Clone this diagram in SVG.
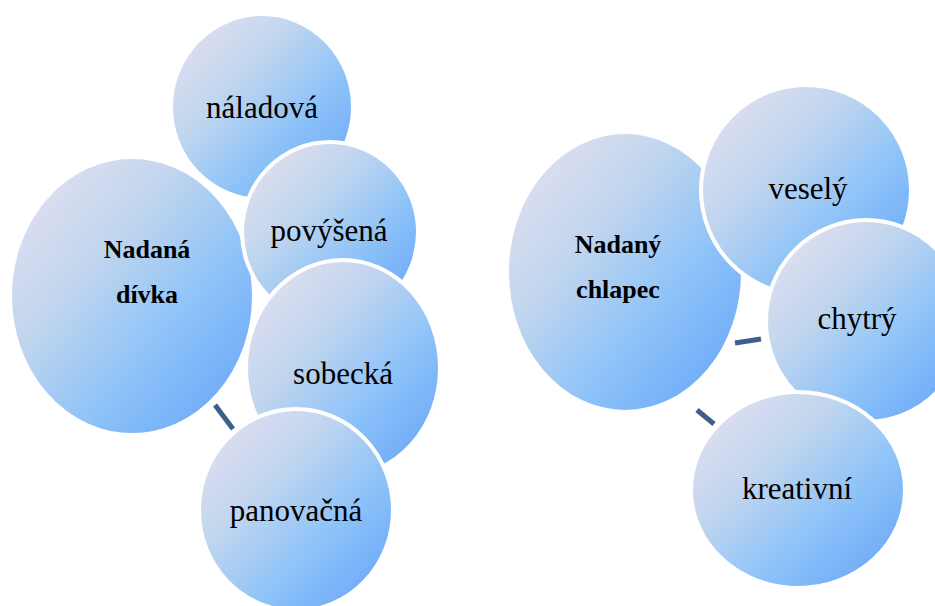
<svg xmlns="http://www.w3.org/2000/svg" width="935" height="606" viewBox="0 0 935 606">
<style>
.b{fill:url(#g);stroke:#fff;stroke-width:4}
.t{font-family:'Liberation Serif','DejaVu Serif',serif;font-size:31px;fill:#000;text-anchor:middle}
.h{font-family:'Liberation Serif','DejaVu Serif',serif;font-size:26px;font-weight:bold;fill:#000;text-anchor:middle}
.c{stroke:#3c5f8c;stroke-width:5;fill:none}
</style>
<defs>
<linearGradient id="g" x1="0" y1="0" x2="1" y2="1">
<stop offset="0" stop-color="#ebe2f1"/>
<stop offset="0.35" stop-color="#c2d6ee"/>
<stop offset="0.65" stop-color="#8cc2f9"/>
<stop offset="1" stop-color="#62a0f6"/>
</linearGradient>
</defs>
<rect width="935" height="606" fill="#fff"/>
<g id="connectors">
<line class="c" x1="215" y1="405" x2="233" y2="429"/>
<line class="c" x1="735" y1="343" x2="761" y2="339"/>
<line class="c" x1="697" y1="410" x2="714" y2="424"/>
</g>
<g id="n-divka"><ellipse class="b" cx="132" cy="296" rx="122" ry="139"/><text class="h" x="147" y="258">Nadaná</text><text class="h" x="147" y="303">dívka</text></g>
<g id="n-naladova"><ellipse class="b" cx="262" cy="107" rx="91" ry="93"/><text class="t" x="262" y="118">náladová</text></g>
<g id="n-povysena"><ellipse class="b" cx="330" cy="232" rx="88" ry="90"/><text class="t" x="329" y="241">povýšená</text></g>
<g id="n-sobecka"><ellipse class="b" cx="343" cy="368" rx="97" ry="108"/><text class="t" x="343" y="384">sobecká</text></g>
<g id="n-panovacna"><ellipse class="b" cx="296" cy="510" rx="97" ry="101"/><text class="t" x="296" y="521">panovačná</text></g>
<g id="n-chlapec"><ellipse class="b" cx="625" cy="272" rx="118" ry="140"/><text class="h" x="618" y="253">Nadaný</text><text class="h" x="618" y="298">chlapec</text></g>
<g id="n-vesely"><ellipse class="b" cx="806" cy="190" rx="105" ry="105"/><text class="t" x="808" y="199">veselý</text></g>
<g id="n-chytry"><ellipse class="b" cx="866" cy="321" rx="100" ry="101"/><text class="t" x="857" y="329">chytrý</text></g>
<g id="n-kreativni"><ellipse class="b" cx="798" cy="490" rx="107" ry="98"/><text class="t" x="797" y="499">kreativní</text></g>
</svg>
